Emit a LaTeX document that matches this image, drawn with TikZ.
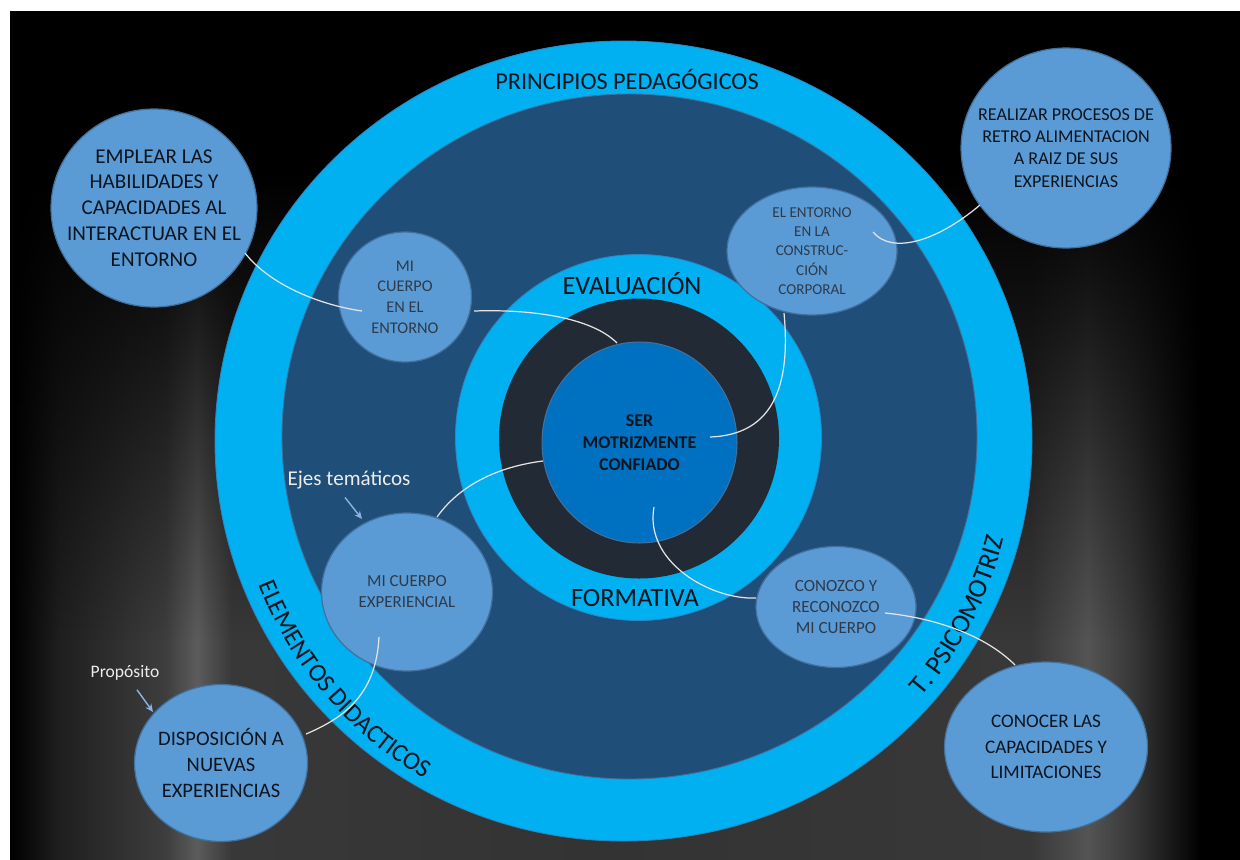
\documentclass[tikz,border=0pt]{standalone}
\usepackage{fontspec}
\setmainfont{Carlito}
\usetikzlibrary{calc,shapes.geometric,decorations.text,fadings,arrows.meta}

\definecolor{ringblue}{HTML}{00B0F0}
\definecolor{ringedge}{HTML}{2E86C1}
\definecolor{deepblue}{HTML}{1F4E79}
\definecolor{ringgray}{HTML}{222A35}
\definecolor{serblue}{HTML}{0070C0}
\definecolor{nodeblue}{HTML}{5B9BD5}
\definecolor{nodeedge}{HTML}{41719C}
\definecolor{txtdark}{HTML}{0C141E}
\definecolor{txtsmall}{HTML}{2E3A4A}
\definecolor{wirecol}{HTML}{E4E4E4}
\definecolor{arrcol}{HTML}{8DB3E2}
\definecolor{labcol}{HTML}{ECECEC}
\definecolor{gA}{gray}{0.12}
\definecolor{gB}{gray}{0.24}
\definecolor{gC}{gray}{0.36}
\definecolor{gD}{gray}{0.22}
\definecolor{gE}{gray}{0.20}
\definecolor{gF}{gray}{0.22}
\definecolor{gG}{gray}{0.33}

\pgfdeclarehorizontalshading{bgh}{100bp}{color(0bp)=(black); color(25bp)=(black);
 color(27bp)=(gA); color(31.3bp)=(gB); color(32.6bp)=(gC); color(34bp)=(gD);
 color(49bp)=(gE); color(66.5bp)=(gF); color(68.8bp)=(gG); color(70.6bp)=(gF);
 color(73.4bp)=(black); color(75bp)=(black); color(100bp)=(black)}
\tikzfading[name=fadedown, top color=transparent!0, bottom color=transparent!100]

\tikzset{
  bubble/.style={ellipse, fill=nodeblue, draw=nodeedge, line width=0.7pt, inner sep=0pt},
  bigtext/.style={align=center, text=txtdark, inner sep=0pt},
  smalltext/.style={align=center, text=txtsmall, inner sep=0pt},
  wire/.style={draw=wirecol, line width=0.7pt},
  pointer/.style={draw=arrcol, line width=0.8pt, -{Stealth[length=4.5pt,width=4pt]}},
  lab/.style={text=labcol, inner sep=0pt},
  ringlabel/.style={text=txtdark, inner sep=0pt}
}

\begin{document}
\begin{tikzpicture}[x=0.02cm,y=-0.02cm]
\useasboundingbox (0,0) rectangle (1240,859);
\fill[white] (0,0) rectangle (1240,859);
% background
\shade[shading=bgh] (10,11) rectangle (1240,859);
\fill[black] (10,11) rectangle (1240,170);
\fill[black, path fading=fadedown] (10,169) rectangle (1240,640);

% concentric rings
\fill[ringblue] (623.5,441) ellipse [x radius=408.5, y radius=400];
\draw[ringedge, line width=0.5pt] (623.5,441) ellipse [x radius=408.5, y radius=400];
\fill[deepblue] (629.5,436.5) ellipse [x radius=347.5, y radius=342.5];
\draw[nodeedge, line width=0.5pt] (629.5,436.5) ellipse [x radius=347.5, y radius=342.5];
\fill[ringblue] (638.5,437.5) circle [radius=183];
\draw[ringedge, line width=0.5pt] (638.5,437.5) circle [radius=183];
\fill[ringgray] (639,438.5) circle [radius=140];

% ring labels
\node[ringlabel, font=\fontsize{13.8}{15}\selectfont] (ppl) at (627,79) {PRINCIPIOS PEDAGÓGICOS};
\node[ringlabel, font=\fontsize{15}{16}\selectfont] (evl) at (632,284) {EVALUACIÓN};
\node[ringlabel, font=\fontsize{15}{16}\selectfont] (fol) at (635,598) {FORMATIVA};

\begin{scope}[shift={(623.5,441)}, x=0.02cm, y=0.02cm]
  \path[decorate, decoration={text along path, text align=center, text color=txtdark,
    text={|\fontsize{14.5}{15}\selectfont|ELEMENTOS DIDACTICOS}}]
    (180.5:392) arc[start angle=180.5, end angle=260.5, radius=392];
  \path[decorate, decoration={text along path, text align=center, text color=txtdark,
    text={|\fontsize{15.4}{16}\selectfont|T. PSICOMOTRIZ}}]
    (298:393) arc[start angle=298, end angle=367, radius=393];
\end{scope}

% central node
\node[ellipse, fill=serblue, draw=nodeedge, line width=0.6pt, minimum width=3.9cm, minimum height=4.02cm,
  inner sep=0pt, label={[bigtext, font=\bfseries\fontsize{10.2}{12.5}\selectfont]center:{SER\\MOTRIZMENTE\\CONFIADO}}]
  (ser) at (639.5,442.5) {};

% bubbles
\node[bubble, minimum width=4.12cm, minimum height=3.96cm,
  label={[bigtext, font=\fontsize{12}{14.7}\selectfont]center:{EMPLEAR LAS\\HABILIDADES Y\\CAPACIDADES AL\\INTERACTUAR EN EL\\ENTORNO}}]
  (emp) at (154,208) {};
\node[bubble, minimum width=2.66cm, minimum height=2.6cm,
  label={[smalltext, font=\fontsize{9.3}{11.8}\selectfont]center:{MI\\CUERPO\\EN EL\\ENTORNO}}]
  (mice) at (405,297) {};
\node[bubble, minimum width=4.2cm, minimum height=4.0cm,
  label={[bigtext, font=\fontsize{10.3}{12.6}\selectfont]center:{REALIZAR PROCESOS DE\\RETRO ALIMENTACION\\A RAIZ DE SUS\\EXPERIENCIAS}}]
  (real) at (1066,148) {};
\node[bubble, minimum width=3.4cm, minimum height=2.56cm,
  label={[smalltext, font=\fontsize{8.6}{11}\selectfont]center:{EL ENTORNO\\EN LA\\CONSTRUC-\\CIÓN\\CORPORAL}}]
  (ent) at (812,251) {};
\node[bubble, minimum width=3.42cm, minimum height=3.16cm,
  label={[smalltext, font=\fontsize{9.6}{12}\selectfont]center:{MI CUERPO\\EXPERIENCIAL}}]
  (mexp) at (407,592) {};
\node[bubble, minimum width=3.46cm, minimum height=3.14cm,
  label={[bigtext, font=\fontsize{11.7}{14.7}\selectfont]center:{DISPOSICIÓN A\\NUEVAS\\EXPERIENCIAS}}]
  (disp) at (221,763) {};
\node[bubble, minimum width=3.2cm, minimum height=2.42cm,
  label={[smalltext, font=\fontsize{9.7}{11.8}\selectfont]center:{CONOZCO Y\\RECONOZCO\\MI CUERPO}}]
  (cono) at (836,607) {};
\node[bubble, minimum width=4.06cm, minimum height=3.4cm,
  label={[bigtext, font=\fontsize{10.9}{14.5}\selectfont]center:{CONOCER LAS\\CAPACIDADES Y\\LIMITACIONES}}]
  (conc) at (1046,747) {};

% side labels
\node[lab, font=\fontsize{12}{13}\selectfont] (ejes) at (349,480) {Ejes temáticos};
\node[lab, font=\fontsize{10}{11}\selectfont] (prop) at (125,673) {Propósito};

% connector end points
\coordinate (w1a) at ($(emp)+(91,45)$);
\coordinate (w1b) at ($(mice)+(-43,14)$);
\coordinate (w2a) at ($(mice)+(69,14)$);
\coordinate (w2b) at ($(ser)+(-22.5,-99.5)$);
\coordinate (w3a) at ($(ent)+(61,-19)$);
\coordinate (w3b) at ($(real)+(-86,57)$);
\coordinate (w4a) at ($(ent)+(-28,62)$);
\coordinate (w4b) at ($(ser)+(70.5,-5.5)$);
\coordinate (w5a) at ($(ser)+(-96.5,18.5)$);
\coordinate (w5b) at ($(mexp)+(30,-75)$);
\coordinate (w6a) at ($(mexp)+(-28,45)$);
\coordinate (w6b) at ($(disp)+(85,-29)$);
\coordinate (w7a) at ($(ser)+(14.5,64.5)$);
\coordinate (w7b) at ($(cono)+(-80,-9)$);
\coordinate (w8a) at ($(cono)+(49,6)$);
\coordinate (w8b) at ($(conc)+(-31,-82)$);

\draw[wire] (w1a) .. controls +(25,32) and +(-42,-6) .. (w1b);
\draw[wire] (w2a) .. controls +(60,-2) and +(-25,-25) .. (w2b);
\draw[wire] (w3a) .. controls +(18,22) and +(-45,38) .. (w3b);
\draw[wire] (w4a) .. controls +(8,85) and +(55,-2) .. (w4b);
\draw[wire] (w5a) .. controls +(-40,5) and +(25,-35) .. (w5b);
\draw[wire] (w6a) .. controls +(-3,60) and +(35,-15) .. (w6b);
\draw[wire] (w7a) .. controls +(-10,55) and +(-45,2) .. (w7b);
\draw[wire] (w8a) .. controls +(50,5) and +(-30,-30) .. (w8b);

% pointers
\coordinate (p1a) at ($(ejes.south)+(-4,8)$);
\coordinate (p1b) at ($(mexp)+(-45,-73)$);
\coordinate (p2a) at ($(prop.south)+(12,9)$);
\coordinate (p2b) at ($(disp)+(-68,-51)$);
\draw[pointer] (p1a) -- (p1b);
\draw[pointer] (p2a) -- (p2b);
\end{tikzpicture}
\end{document}
